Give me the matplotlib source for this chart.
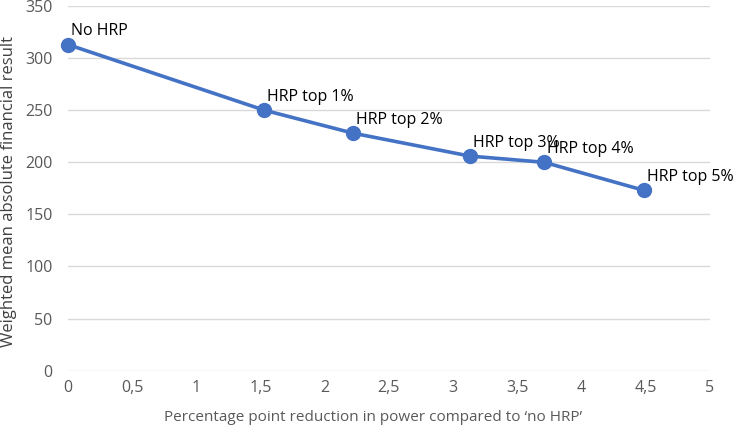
import matplotlib.pyplot as plt
from matplotlib.ticker import FuncFormatter

reduction = [0, 1.53, 2.22, 3.13, 3.71, 4.49]
result = [313, 250, 228, 206, 200, 173]
labels = ['No HRP', 'HRP top 1%', 'HRP top 2%', 'HRP top 3%', 'HRP top 4%', 'HRP top 5%']

plt.rcParams['font.family'] = ['Open Sans', 'DejaVu Sans']

fig = plt.figure(figsize=(7.44, 4.32), dpi=100)
ax = fig.add_axes([0.0914, 0.142, 0.8626, 0.844])

ax.plot(reduction, result, color='#4472C4', linewidth=2.6, marker='o',
        markersize=10, zorder=3, clip_on=False)

for x, y, lab in zip(reduction, result, labels):
    ax.annotate(lab, (x, y), xytext=(2, 4), textcoords='offset points',
                ha='left', va='bottom', fontsize=11.5, color='black')

ax.set_xlim(0, 5)
ax.set_ylim(0, 350)
ax.set_xticks([i * 0.5 for i in range(11)])
ax.set_yticks(range(0, 351, 50))
ax.xaxis.set_major_formatter(FuncFormatter(lambda v, p: ('%g' % v).replace('.', ',')))

ax.grid(axis='y', color='#D9D9D9', linewidth=1)
ax.set_axisbelow(True)
for s in ax.spines.values():
    s.set_visible(False)
ax.tick_params(length=0, labelsize=11.5, labelcolor='#595959')
ax.tick_params(axis='y', pad=11)
ax.tick_params(axis='x', pad=7)

ax.set_xlabel('Percentage point reduction in power compared to \u2018no HRP\u2019',
              fontsize=11, color='#595959')
ax.xaxis.set_label_coords(0.475, -0.107)
ax.set_ylabel('Weighted mean absolute financial result',
              fontsize=12, color='#404040')
ax.yaxis.set_label_coords(-0.079, 0.49)

fig.savefig('out.png', dpi=100)
